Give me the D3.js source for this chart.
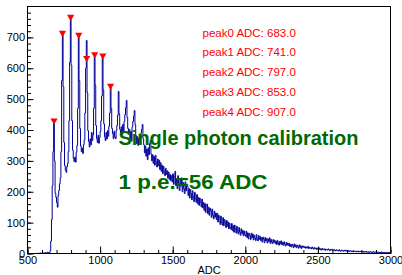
<!DOCTYPE html>
<html>
<head>
<meta charset="utf-8">
<script src="https://cdn.jsdelivr.net/npm/d3@7"></script>
<style>
  body { margin: 0; background: #fff; }
  svg { display: block; }
</style>
</head>
<body>
<div id="chart"></div>
<script>
// histogram: 5 ADC bins from 500 to 3000
var binLow = 500;
var binWidth = 5;
var counts = [
  0,0,0,0,0,0,0,0,0,0,0,0,0,0,1,0,0,2,0,1,
  0,2,0,1,3,1,2,4,2,3,3,10,40,110,220,330,428,300,195,182,
  165,150,188,204,226,245,330,560,712,540,360,285,270,263,281,292,330,430,620,764,
  610,430,335,308,298,312,296,328,350,470,706,560,405,348,330,341,324,352,368,455,
  600,690,520,398,362,345,371,352,392,366,384,470,643,545,415,372,360,383,357,376,
  395,430,510,639,530,420,378,366,392,371,398,380,412,455,541,470,405,388,372,396,
  378,372,398,415,448,525,452,402,388,410,385,418,396,428,450,472,496,440,405,388,
  402,372,395,364,410,428,445,463,418,382,356,378,350,372,386,358,390,402,418,372,
  352,326,348,315,338,304,342,320,356,366,322,300,320,292,314,286,318,296,280,306,
  284,302,272,294,266,286,258,282,268,252,276,256,268,244,264,240,256,236,252,232,
  258,224,248,266,220,242,210,252,228,204,240,218,245,200,230,210,194,232,203,222,
  218,188,210,180,207,194,174,203,184,168,198,177,166,191,161,182,156,179,165,151,
  176,148,165,140,162,133,154,160,129,150,124,147,138,117,144,124,112,137,118,131,
  110,130,102,124,116,94,121,100,92,116,90,110,103,84,107,88,102,80,98,85,
  78,97,74,90,69,92,80,66,88,70,63,84,69,59,80,65,75,57,73,61,
  56,72,52,67,47,65,58,45,66,51,63,44,59,50,42,61,48,41,58,46,
  55,42,51,37,53,46,35,52,41,49,34,47,39,51,33,46,37,32,45,36,
  43,32,40,29,42,34,27,39,31,41,28,36,27,38,30,24,36,27,34,26,
  33,23,30,21,30,25,19,31,22,28,19,27,22,17,28,20,25,16,24,20,
  24,19,22,17,21,18,23,16,20,17,19,15,21,17,14,19,16,18,13,17,
  16,13,18,12,15,11,16,14,12,15,10,14,13,11,15,12,9,13,11,14,
  12,9,13,10,8,12,10,11,8,12,9,7,11,9,10,7,10,8,11,8,
  9,7,10,6,8,9,6,8,5,9,7,6,8,5,7,8,5,7,6,8,
  6,5,7,4,6,5,7,4,5,6,3,5,6,4,5,3,6,4,5,4,
  5,3,4,5,3,4,2,5,3,4,3,2,4,3,3,2,4,2,3,2
];

// peaks found by the search (markers)
var peakAdc = [683, 741, 797, 853, 907, 963, 1019, 1072];
var peakCounts = [428, 712, 764, 706, 631, 643, 639, 541];

// first five peaks listed in the legend
var listedPeaks = [683.0, 741.0, 797.0, 853.0, 907.0];

var xTicks = [500, 1000, 1500, 2000, 2500, 3000];
var yTicks = [0, 100, 200, 300, 400, 500, 600, 700];
var xTitle = "ADC";
var titleText = "Single photon calibration";
var gainText = "1 p.e.=56 ADC";

function init(){
    var w = 402;
    var h = 275;
    var left = 27.5, right = 390.5, top = 6.5, bottom = 253.5;
    var font = "'Liberation Sans', Arial, sans-serif";

    var svg = d3.select("#chart")
                .append("svg")
                .attr("width", w)
                .attr("height", h);

    svg.append("rect")
       .attr("width", w)
       .attr("height", h)
       .attr("fill", "white");

    var x = d3.scaleLinear().domain([500, 3000]).range([left, right]);
    var y = d3.scaleLinear().domain([0, 800]).range([bottom, top]);

    var bins = counts.map(function(n, i){
        return {adc: binLow + (i + 0.5) * binWidth, n: n};
    });

    svg.append("clipPath")
       .attr("id", "frameclip")
       .append("rect")
       .attr("x", left).attr("y", top)
       .attr("width", right - left).attr("height", bottom - top);

    // histogram
    var line = d3.line()
                 .x(function(d){ return x(d.adc); })
                 .y(function(d){ return y(d.n); })
                 .curve(d3.curveStep);

    svg.append("path")
       .datum(bins)
       .attr("clip-path", "url(#frameclip)")
       .attr("d", line)
       .attr("fill", "none")
       .attr("stroke", "#000099")
       .attr("stroke-width", 1);

    // minor ticks
    svg.append("g")
       .attr("transform", "translate(0," + bottom + ")")
       .call(d3.axisBottom(x).tickValues(d3.range(500, 3001, 100)).tickSize(-3.5).tickFormat(""))
       .call(function(g){ g.select(".domain").remove(); });

    svg.append("g")
       .attr("transform", "translate(" + left + ",0)")
       .call(d3.axisLeft(y).tickValues(d3.range(0, 800, 20)).tickSize(-3.5).tickFormat(""))
       .call(function(g){ g.select(".domain").remove(); });

    // major ticks + labels
    var xAxis = svg.append("g")
       .attr("transform", "translate(0," + bottom + ")")
       .call(d3.axisBottom(x).tickValues(xTicks).tickSize(-7).tickPadding(3).tickFormat(d3.format("d")));
    xAxis.select(".domain").remove();

    var yAxis = svg.append("g")
       .attr("transform", "translate(" + left + ",0)")
       .call(d3.axisLeft(y).tickValues(yTicks).tickSize(-6).tickPadding(2.5).tickFormat(d3.format("d")));
    yAxis.select(".domain").remove();

    svg.selectAll(".tick text")
       .style("font-family", font)
       .style("font-size", "11px")
       .attr("fill", "black");
    svg.selectAll(".tick line").attr("stroke", "black");

    // frame
    svg.append("rect")
       .attr("x", left).attr("y", top)
       .attr("width", right - left).attr("height", bottom - top)
       .attr("fill", "none")
       .attr("stroke", "black")
       .attr("stroke-width", 1);

    svg.append("text")
       .attr("x", (left + right) / 2)
       .attr("y", 274)
       .attr("text-anchor", "middle")
       .style("font-family", font)
       .style("font-size", "11px")
       .text(xTitle);

    // peak markers (inverted triangles)
    svg.selectAll("path.peak")
       .data(peakAdc)
       .enter()
       .append("path")
       .attr("class", "peak")
       .attr("d", function(d, i){
           var cx = x(d), cy = y(peakCounts[i]);
           return "M" + (cx - 3.6) + "," + (cy - 2.8) + "L" + (cx + 3.6) + "," + (cy - 2.8) +
                  "L" + cx + "," + (cy + 3.4) + "Z";
       })
       .attr("fill", "#ff0000");

    // peak list
    svg.selectAll("text.peaklabel")
       .data(listedPeaks)
       .enter()
       .append("text")
       .attr("class", "peaklabel")
       .attr("x", 202.5)
       .attr("y", function(d, i){ return 36.5 + i * 19.8; })
       .text(function(d, i){ return "peak" + i + " ADC: " + d.toFixed(1); })
       .style("font-family", font)
       .style("font-size", "11.5px")
       .attr("fill", "#ff0000");

    svg.append("text")
       .attr("x", 118.5)
       .attr("y", 144.5)
       .attr("textLength", 240)
       .attr("lengthAdjust", "spacingAndGlyphs")
       .style("font-family", font)
       .style("font-size", "20px")
       .style("font-weight", "bold")
       .attr("fill", "#006a00")
       .text(titleText);

    svg.append("text")
       .attr("x", 118.5)
       .attr("y", 189)
       .attr("textLength", 149)
       .attr("lengthAdjust", "spacingAndGlyphs")
       .style("font-family", font)
       .style("font-size", "20px")
       .style("font-weight", "bold")
       .attr("fill", "#006a00")
       .text(gainText);
}

window.onload = init;
</script>
</body>
</html>
